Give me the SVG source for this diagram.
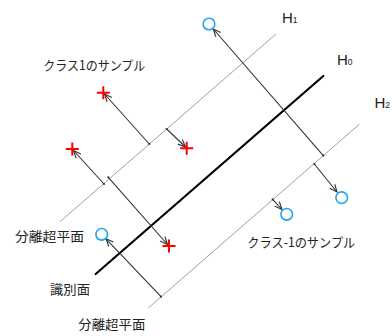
<svg xmlns="http://www.w3.org/2000/svg" width="392" height="336" viewBox="0 0 392 336">
<style>
.jp{font-family:"Noto Sans CJK JP","Noto Sans",sans-serif;font-size:13px;fill:#222}
.h{font-family:"Liberation Sans",Arial,sans-serif;font-size:15px;fill:#222}
.hs{font-family:"Liberation Sans",Arial,sans-serif;font-size:8.5px;fill:#222}
.sep{stroke:#a0a0a0;stroke-width:1;fill:none}
.main{stroke:#000;stroke-width:2.2;fill:none;stroke-linecap:round}
.arr{stroke:#333;stroke-width:1.1;fill:none;marker-end:url(#ah);marker-start:url(#dot)}
.cross{stroke:#f00;stroke-width:2;fill:none}
.circ{stroke:#1ea6e8;stroke-width:1.6;fill:none}
</style>
<defs>
<marker id="ah" markerWidth="10" markerHeight="10" refX="8" refY="4" orient="auto" markerUnits="userSpaceOnUse">
<path d="M0.5,0.8 L8,4 L0.5,7.2" fill="none" stroke="#333" stroke-width="1.1"/>
</marker>
<marker id="dot" markerWidth="4" markerHeight="4" refX="2" refY="2" markerUnits="userSpaceOnUse">
<circle cx="2" cy="2" r="1.1" fill="#333"/>
</marker>
</defs>
<g id="lines">
<line id="H1line" class="sep" x1="60" y1="221.7" x2="276" y2="34"/>
<line id="H0line" class="main" x1="95.7" y1="274" x2="323.3" y2="76"/>
<line id="H2line" class="sep" x1="148.3" y1="308" x2="359.3" y2="124.3"/>
</g>
<g id="connectors">
<line class="arr" x1="323.3" y1="155.6" x2="213.3" y2="29"/>
<line class="arr" x1="149.3" y1="144" x2="104.5" y2="94"/>
<line class="arr" x1="166.7" y1="129" x2="185.5" y2="147"/>
<line class="arr" x1="104" y1="184" x2="73.5" y2="150.5"/>
<line class="arr" x1="108.3" y1="177.3" x2="167.5" y2="244.5"/>
<line class="arr" x1="161" y1="296.7" x2="106" y2="238.8"/>
<line class="arr" x1="314.3" y1="164" x2="337" y2="192"/>
<line class="arr" x1="272.7" y1="199.3" x2="282" y2="209.5"/>
</g>
<g id="class1">
<path class="cross" d="M96.8,92.7 H109.8 M103.3,86.2 V99.2"/>
<path class="cross" d="M65.8,149 H78.8 M72.3,142.5 V155.5"/>
<path class="cross" d="M180.2,148.3 H193.2 M186.7,141.8 V154.8"/>
<path class="cross" d="M162.5,246 H175.5 M169,239.5 V252.5"/>
</g>
<g id="classm1">
<circle class="circ" cx="209" cy="24" r="5.8"/>
<circle class="circ" cx="101.7" cy="234.3" r="5.8"/>
<circle class="circ" cx="341.7" cy="197.7" r="5.8"/>
<circle class="circ" cx="286.7" cy="214.3" r="5.8"/>
</g>
<g id="labels">
<text class="h" x="282" y="23.3">H<tspan class="hs">1</tspan></text>
<text class="h" x="337" y="65">H<tspan class="hs">0</tspan></text>
<text class="h" x="374.5" y="107.7">H<tspan class="hs">2</tspan></text>
<text class="jp" x="43.3" y="69.8" textLength="102" lengthAdjust="spacingAndGlyphs">クラス1のサンプル</text>
<text class="jp" x="247.3" y="247.3" textLength="108" lengthAdjust="spacingAndGlyphs">クラス-1のサンプル</text>
<text class="jp" x="15" y="241.3" textLength="69" lengthAdjust="spacingAndGlyphs">分離超平面</text>
<text class="jp" x="50" y="294" textLength="40" lengthAdjust="spacingAndGlyphs">識別面</text>
<text class="jp" x="78.3" y="328.5" textLength="67" lengthAdjust="spacingAndGlyphs">分離超平面</text>
</g>
</svg>
